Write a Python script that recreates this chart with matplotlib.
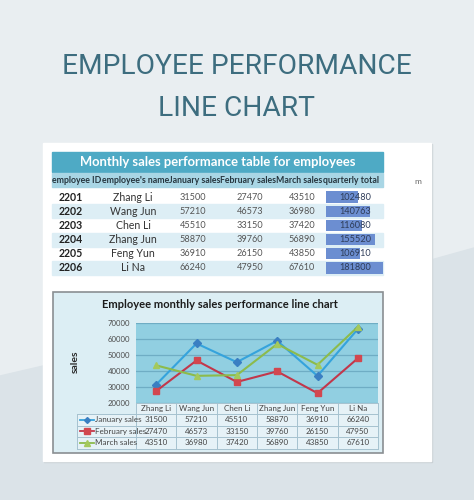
import matplotlib
matplotlib.use("Agg")
import matplotlib.pyplot as plt
from matplotlib.patches import Rectangle, Polygon
from matplotlib.lines import Line2D
from matplotlib import font_manager

# ---------------- data ----------------
employee_ids = ["2201", "2202", "2203", "2204", "2205", "2206"]
names = ["Zhang Li", "Wang Jun", "Chen Li", "Zhang Jun", "Feng Yun", "Li Na"]
jan_sales = [31500, 57210, 45510, 58870, 36910, 66240]
feb_sales = [27470, 46573, 33150, 39760, 26150, 47950]
mar_sales = [43510, 36980, 37420, 56890, 43850, 67610]
quarter_total = [102480, 140763, 116080, 155520, 106910, 181800]
table_headers = ["employee ID", "employee's name", "January sales",
                 "February sales", "March sales", "quarterly total"]
series_names = ["January sales", "February sales", "March sales"]
y_ticks = [20000, 30000, 40000, 50000, 60000, 70000]

W, H = 474, 500
FONT = "Lato"
installed = {f.name for f in font_manager.fontManager.ttflist}
NARROW = "Liberation Sans Narrow" if "Liberation Sans Narrow" in installed else "Lato"

fig = plt.figure(figsize=(W / 100, H / 100), dpi=100)
renderer = fig.canvas.get_renderer()
bg = fig.add_axes([0, 0, 1, 1])
bg.set_xlim(0, W)
bg.set_ylim(H, 0)
bg.axis("off")


def px_axes(x0, y0, x1, y1, **kw):
    return fig.add_axes([x0 / W, 1 - y1 / H, (x1 - x0) / W, (y1 - y0) / H], **kw)


def text_w(t):
    return t.get_window_extent(renderer=renderer).width


def fit_width(t, target):
    w = text_w(t)
    t.set_fontsize(t.get_fontsize() * target / w)
    return t


# background
bg.add_patch(Rectangle((0, 0), W, H, color="#e9eef1", zorder=0))
bg.add_patch(Polygon([(0, 376), (43, 366), (431, 260), (474, 248), (474, 500), (0, 500)],
                     closed=True, color="#dbe3e8", zorder=0.5))

# title
t1 = bg.text(237, 66, "EMPLOYEE PERFORMANCE", ha="center", va="center", fontsize=22,
             color="#3d6d7f", family="Roboto", fontweight="normal")
fit_width(t1, 348)
bg.text(237, 108, "LINE CHART", ha="center", va="center", fontsize=t1.get_fontsize(),
        color="#3d6d7f", family="Roboto", fontweight="normal")

# sheet
bg.add_patch(Rectangle((44, 144), 388, 318, color="#c9d0d4", zorder=1))
bg.add_patch(Rectangle((43, 143), 388, 318, color="white", zorder=1.1))

# ---------------- top table ----------------
tx0, tx1 = 52, 383
bg.add_patch(Rectangle((tx0, 152), tx1 - tx0, 20, color="#4eaac5", zorder=2))
tt = bg.text((tx0 + tx1) / 2, 162, "Monthly sales performance table for employees",
             ha="center", va="center", fontsize=9.3, color="white", fontweight="bold",
             family=FONT, zorder=3)
fit_width(tt, 275)
bg.add_patch(Rectangle((tx0, 173), tx1 - tx0, 14, color="#a9d6e5", zorder=2))

# header texts: laid out left to right, scaled so they fill the table width
hdr = [bg.text(0, 180.5, h, ha="left", va="center", fontsize=7, fontweight="bold",
               color="#26363f", family=NARROW, zorder=3) for h in table_headers]
total = sum(text_w(h) for h in hdr)
scale = (tx1 - tx0 - 1) / total
xx = tx0 + 0.5
for h in hdr:
    h.set_fontsize(7 * scale)
for h in hdr:
    h.set_x(xx)
    xx += text_w(h)

col_centers = [71, 133, 193, 250, 302, 355]
row_top = 190
row_h = 14.17
for i in range(len(names)):
    y0 = row_top + i * row_h
    if i % 2 == 1:
        bg.add_patch(Rectangle((tx0, y0), tx1 - tx0, row_h, color="#ddeef5", zorder=2))

# data bars for quarterly total
bar_ax = px_axes(326, row_top, 383, row_top + row_h * len(names))
bar_ax.barh(range(len(quarter_total)), quarter_total, height=0.8, color="#6c8ed1", zorder=2)
bar_ax.set_xlim(0, max(quarter_total))
bar_ax.set_ylim(len(quarter_total) - 0.5, -0.5)
bar_ax.axis("off")
bar_ax.patch.set_alpha(0)

for i in range(len(names)):
    yc = row_top + (i + 0.5) * row_h
    bg.text(col_centers[0], yc, employee_ids[i], ha="center", va="center", fontsize=7.6,
            fontweight="bold", color="#222", family=NARROW, zorder=3)
    bg.text(col_centers[1], yc, names[i], ha="center", va="center", fontsize=7.6,
            color="#333", family=NARROW, zorder=3)
    for cx, arr in zip(col_centers[2:5], [jan_sales, feb_sales, mar_sales]):
        bg.text(cx, yc, str(arr[i]), ha="center", va="center", fontsize=6.6,
                color="#555", family=NARROW, zorder=3)
for i in range(len(names)):
    yc = row_top + (i + 0.5) * row_h
    fig.text(355 / W, 1 - yc / H, str(quarter_total[i]), ha="center", va="center",
             fontsize=6.6, color="#2e3c58", family=NARROW, zorder=5)

bg.text(418, 182, "m", ha="center", va="center", fontsize=6, color="#666", family=FONT)

# ---------------- chart box ----------------
bg.add_patch(Rectangle((53, 292), 330, 161, facecolor="#dceef4", edgecolor="#8a8f92",
                       lw=1.2, zorder=2))
ct = bg.text(220, 305, "Employee monthly sales performance line chart", ha="center",
             va="center", fontsize=8.3, fontweight="bold", color="#1c1c1c", family=FONT, zorder=3)
fit_width(ct, 235)
bg.text(75, 362, "sales", rotation=90, ha="center", va="center", fontsize=7.5,
        fontweight="bold", color="#2a2a2a", family=FONT, zorder=3)

px0, px1, py0, py1 = 136, 378, 323, 403
ax = px_axes(px0, py0, px1, py1)
ax.set_facecolor("#91cfe1")
x = list(range(len(names)))
ax.plot(x, jan_sales, color="#35a3dc", lw=1.5, marker="D", ms=3.6,
        mfc="#3a7fc2", mec="#3a7fc2", zorder=3)
ax.plot(x, feb_sales, color="#c2374b", lw=1.5, marker="s", ms=5,
        mfc="#d2474f", mec="#d2474f", zorder=3)
ax.plot(x, mar_sales, color="#8cbb4c", lw=1.5, marker="^", ms=4.6,
        mfc="#a4c95c", mec="#a4c95c", zorder=3)
ax.set_xlim(-0.5, len(names) - 0.5)
ax.set_ylim(y_ticks[0], y_ticks[-1])
ax.set_yticks(y_ticks)
ax.set_yticklabels([str(v) for v in y_ticks], fontsize=5.6, color="#4a4a4a", family=FONT)
ax.set_xticks([])
ax.tick_params(axis="y", length=0, pad=4)
ax.grid(axis="y", color="#6fadc4", lw=0.9)
ax.set_axisbelow(True)
for s in ax.spines.values():
    s.set_visible(False)

# data table below chart
col_w = (px1 - px0) / len(names)
tb_rows = [(403, 414), (414, 425.5), (425.5, 437), (437, 448.5)]
grid_c = "#a6c2cf"
cell_c = "#e6f2f7"
bg.add_patch(Rectangle((px0, 403), px1 - px0, 45.5, facecolor=cell_c, edgecolor="none", zorder=2.5))
bg.add_patch(Rectangle((77, 414), px0 - 77, 34.5, facecolor=cell_c, edgecolor="none", zorder=2.5))
for j in range(len(names) + 1):
    xj = px0 + j * col_w
    bg.plot([xj, xj], [403, 448.5], color=grid_c, lw=0.7, zorder=2.8)
bg.plot([77, 77], [414, 448.5], color=grid_c, lw=0.7, zorder=2.8)
for (a, b) in tb_rows:
    x_start = px0 if a == 403 else 77
    bg.plot([x_start, px1], [a, a], color=grid_c, lw=0.7, zorder=2.8)
bg.plot([77, px1], [448.5, 448.5], color=grid_c, lw=0.7, zorder=2.8)

for j, n in enumerate(names):
    bg.text(px0 + (j + 0.5) * col_w, 408.5, n, ha="center", va="center", fontsize=5.8,
            color="#444", family=FONT, zorder=3)
series_style = [("#35a3dc", "D", "#3a7fc2", 3.0), ("#c2374b", "s", "#d2474f", 4.2),
                ("#8cbb4c", "^", "#a4c95c", 3.8)]
for r, (arr, nm, st) in enumerate(zip([jan_sales, feb_sales, mar_sales], series_names, series_style)):
    a, b = tb_rows[r + 1]
    yc = (a + b) / 2
    bg.add_line(Line2D([80, 94], [yc, yc], color=st[0], lw=1.3, zorder=3))
    bg.add_line(Line2D([87], [yc], marker=st[1], ms=st[3], mfc=st[2], mec=st[2], zorder=3.1))
    bg.text(95, yc, nm, ha="left", va="center", fontsize=5.8, color="#444",
            family=FONT, zorder=3)
    for j in range(len(names)):
        bg.text(px0 + (j + 0.5) * col_w, yc, str(arr[j]), ha="center", va="center",
                fontsize=5.8, color="#444", family=FONT, zorder=3)

fig.savefig("out.png", dpi=100)
